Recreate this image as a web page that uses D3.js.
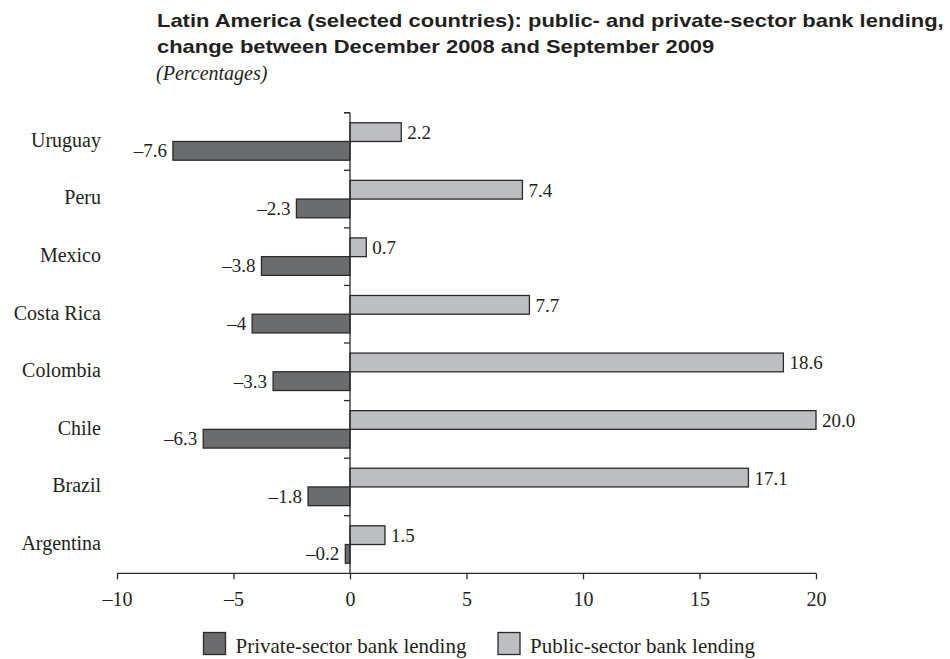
<!DOCTYPE html>
<html><head><meta charset="utf-8">
<script src="https://cdn.jsdelivr.net/npm/d3@7"></script>
<style>
body{margin:0;background:#fff;}
svg text{fill:#231f20;}
</style></head>
<body><svg id="chart" width="950" height="659"></svg>
<script>
const categories = ["Uruguay","Peru","Mexico","Costa Rica","Colombia","Chile","Brazil","Argentina"];
const privateValues = [-7.6,-2.3,-3.8,-4.2,-3.3,-6.3,-1.8,-0.2];
const publicValues = [2.2,7.4,0.7,7.7,18.6,20.0,17.1,1.5];
const privateLabels = ["\u20137.6","\u20132.3","\u20133.8","\u20134","\u20133.3","\u20136.3","\u20131.8","\u20130.2"];
const publicLabels = ["2.2","7.4","0.7","7.7","18.6","20.0","17.1","1.5"];
const xTicks = [-10,-5,0,5,10,15,20];
const seriesNames = ["Private-sector bank lending","Public-sector bank lending"];
const titleLines = ["Latin America (selected countries): public- and private-sector bank lending,","change between December 2008 and September 2009"];
const subtitle = "(Percentages)";

const svg = d3.select("#chart");
const darkFill = "#6b6c6e", lightFill = "#bdbec1", strokeC = "#2a2a2a";
const serif = "'Liberation Serif','Times New Roman',serif";

const x = d3.scaleLinear().domain([-10,20]).range([117,816]);
const y = d3.scaleBand().domain(categories).range([112.7,573.3]).paddingInner(0.35).paddingOuter(0.175);
const step = y.step(), bw = y.bandwidth();
const half = bw/2;

// title (horizontally stretched to match the reference's wide bold face)
const tg = svg.append("g");
const tt = tg.selectAll("text").data(titleLines).join("text")
  .attr("x",0).attr("y",(d,i)=>27+i*26.5)
  .attr("font-family","'Liberation Sans',Arial,sans-serif").attr("font-weight","bold").attr("font-size",18)
  .text(d=>d);
const w1 = tt.nodes()[0].getComputedTextLength();
const sx = 787 / w1;
tg.attr("transform",`translate(157,0) scale(${sx},1)`);
svg.append("text").attr("x",156).attr("y",80).attr("font-family",serif).attr("font-style","italic").attr("font-size",20).text(subtitle);

// bars
const g = svg.append("g");
g.selectAll("rect.pub").data(categories).join("rect").attr("class","pub")
  .attr("x",(d,i)=>x(Math.min(0,publicValues[i]))).attr("y",d=>y(d))
  .attr("width",(d,i)=>Math.abs(x(publicValues[i])-x(0))).attr("height",half)
  .attr("fill",lightFill).attr("stroke",strokeC).attr("stroke-width",1.3);
g.selectAll("rect.priv").data(categories).join("rect").attr("class","priv")
  .attr("x",(d,i)=>x(Math.min(0,privateValues[i]))).attr("y",d=>y(d)+half)
  .attr("width",(d,i)=>Math.abs(x(privateValues[i])-x(0))).attr("height",half)
  .attr("fill",darkFill).attr("stroke",strokeC).attr("stroke-width",1.3);

// value labels
g.selectAll("text.pl").data(categories).join("text").attr("class","pl")
  .attr("x",(d,i)=>x(publicValues[i])+6).attr("y",d=>y(d)+half/2)
  .attr("dy","0.37em").attr("font-family",serif).attr("font-size",19)
  .text((d,i)=>publicLabels[i]);
g.selectAll("text.vl").data(categories).join("text").attr("class","vl")
  .attr("x",(d,i)=>x(privateValues[i])-6).attr("y",d=>y(d)+half*1.5)
  .attr("dy","0.34em").attr("text-anchor","end").attr("font-family",serif).attr("font-size",19)
  .text((d,i)=>privateLabels[i]);

// category labels
g.selectAll("text.cat").data(categories).join("text").attr("class","cat")
  .attr("x",101).attr("y",d=>y(d)+bw/2).attr("dy","0.27em").attr("text-anchor","end")
  .attr("font-family",serif).attr("font-size",20).text(d=>d);

// y axis line and boundary ticks
const y0 = y.range()[0], y1 = y.range()[1];
g.append("line").attr("x1",x(0)).attr("x2",x(0)).attr("y1",y0).attr("y2",y1).attr("stroke",strokeC).attr("stroke-width",1.3);
const bounds = categories.map(c=>y(c)-step*0.35/2).concat([y0]);
g.selectAll("line.yt").data(bounds).join("line").attr("class","yt")
  .attr("x1",x(0)-6).attr("x2",x(0)).attr("y1",d=>d).attr("y2",d=>d).attr("stroke",strokeC).attr("stroke-width",1.3);

// x axis
const xa = svg.append("g").attr("transform",`translate(0,${y1})`)
  .call(d3.axisBottom(x).tickValues(xTicks).tickSize(6).tickPadding(12.5).tickFormat(d=>d<0?"\u2013"+Math.abs(d):d));
xa.select(".domain").attr("stroke",strokeC).attr("stroke-width",1.3).attr("d",`M${x(-10)},0H${x(20)}`);
xa.selectAll(".tick line").attr("stroke",strokeC).attr("stroke-width",1.3);
xa.selectAll(".tick text").attr("font-family",serif).attr("font-size",20).attr("fill","#231f20");

// legend
const leg = svg.append("g");
const legX = [203.5, 498];
leg.selectAll("rect").data(seriesNames).join("rect")
  .attr("x",(d,i)=>legX[i]).attr("y",632.5).attr("width",22).attr("height",22)
  .attr("fill",(d,i)=>i===0?darkFill:lightFill).attr("stroke",strokeC).attr("stroke-width",1.3);
leg.selectAll("text").data(seriesNames).join("text")
  .attr("x",(d,i)=>legX[i]+32).attr("y",652.5).attr("font-family",serif).attr("font-size",21).text(d=>d);
</script></body></html>
